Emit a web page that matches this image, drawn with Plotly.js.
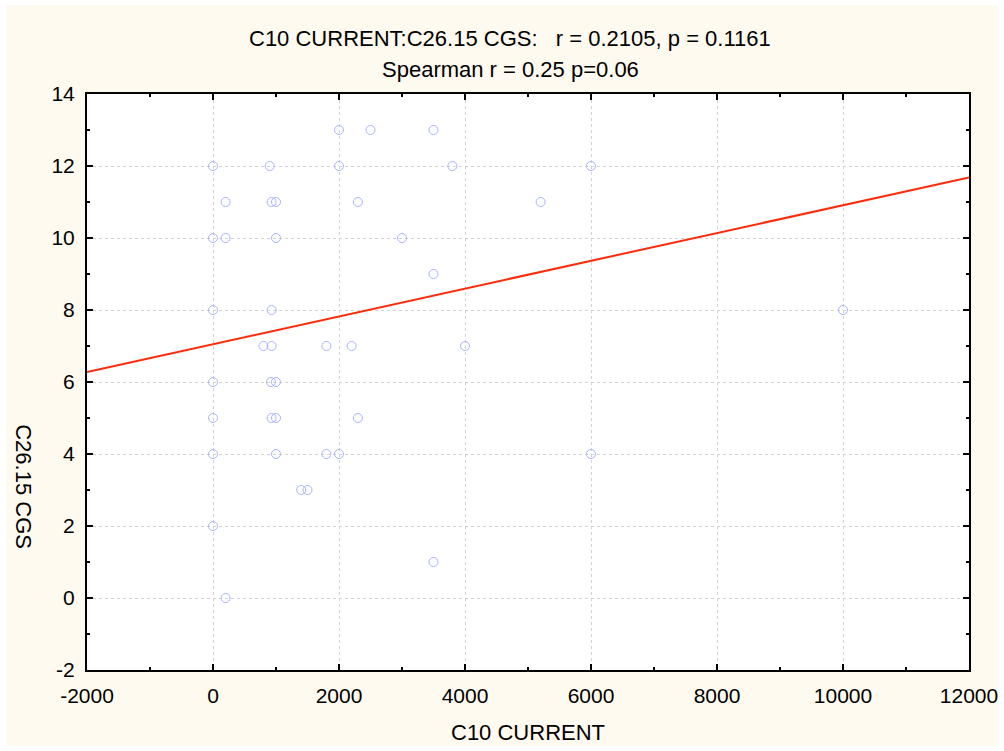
<!DOCTYPE html>
<html>
<head>
<meta charset="utf-8">
<script src="https://cdn.plot.ly/plotly-3.0.1.min.js"></script>
<style>html,body{margin:0;padding:0;background:#fff;}#chart{width:1004px;height:751px;}</style>
</head>
<body>
<div id="chart"></div>
<script>
// Observed points (C10 CURRENT, C26.15 CGS)
const c10Current = [
  0, 0, 0, 0, 0, 0, 0,
  200, 200, 200,
  900, 930, 1000, 1000, 930, 800, 930, 920, 1000, 930, 1000, 1000,
  1400, 1500,
  1800, 2200, 4000,
  2300,
  1800, 2000,
  2000, 2500, 3500,
  2000, 3800, 6000,
  2300, 5200,
  3000,
  3500,
  10000,
  6000,
  3500
];
const c26Cgs = [
  12, 10, 8, 6, 5, 4, 2,
  11, 10, 0,
  12, 11, 11, 10, 8, 7, 7, 6, 6, 5, 5, 4,
  3, 3,
  7, 7, 7,
  5,
  4, 4,
  13, 13, 13,
  12, 12, 12,
  11, 11,
  10,
  9,
  8,
  4,
  1
];
// Fitted regression line
const fitIntercept = 7.05;
const fitSlope = 0.000386;
const xRange = [-2000, 12000];
const yRange = [-2, 14];
const fitY = xRange.map(x => fitIntercept + fitSlope * x);

// Tick labels
const xTickVals = [-2000, 0, 2000, 4000, 6000, 8000, 10000, 12000];
const xTickText = ['-2000', '0', '2000', '4000', '6000', '8000', '10000', '12000'];
const yTickVals = [-2, 0, 2, 4, 6, 8, 10, 12, 14];
const yTickText = ['-2', '0', '2', '4', '6', '8', '10', '12', '14'];

const titleLine1 = 'C10 CURRENT:C26.15 CGS:   r = 0.2105, p = 0.1161';
const titleLine2 = 'Spearman r = 0.25 p=0.06';
const xTitle = 'C10 CURRENT';
const yTitle = 'C26.15 CGS';

const FONT = 'Liberation Sans, Arial, sans-serif';
const fsTick = 21;
const fsTitle = 22;

const axisCommon = {
  showline: true, linecolor: '#000', linewidth: 2, mirror: 'allticks',
  ticks: 'inside', ticklen: 6, tickwidth: 1.5, tickcolor: '#000',
  showgrid: true, gridcolor: '#d2d2d2', gridwidth: 1, griddash: 'dot',
  zeroline: false, tickmode: 'array',
  tickfont: {family: FONT, size: fsTick, color: '#000'},
  ticklabelstandoff: 6
};

const data = [
  {
    x: c10Current, y: c26Cgs, type: 'scatter', mode: 'markers',
    marker: {symbol: 'circle-open', size: 9, color: '#aab3ff', line: {width: 1, color: '#aab3ff'}},
    hoverinfo: 'x+y', showlegend: false
  },
  {
    x: xRange, y: fitY, type: 'scatter', mode: 'lines',
    line: {color: '#ff2a0a', width: 2}, showlegend: false, hoverinfo: 'skip'
  }
];

const layout = {
  width: 1004, height: 751,
  margin: {l: 87, r: 35, t: 94, b: 81},
  paper_bgcolor: '#ffffff', plot_bgcolor: '#ffffff',
  font: {family: FONT, size: fsTick, color: '#000'},
  showlegend: false,
  xaxis: Object.assign({}, axisCommon, {
    range: xRange, tickvals: xTickVals, ticktext: xTickText,
    minor: {dtick: 1000, tick0: 0, ticks: 'inside', ticklen: 3, tickcolor: '#000', tickwidth: 1.5, showgrid: false}
  }),
  yaxis: Object.assign({}, axisCommon, {
    range: yRange, tickvals: yTickVals, ticktext: yTickText,
    minor: {dtick: 1, tick0: 0, ticks: 'inside', ticklen: 3, tickcolor: '#000', tickwidth: 1.5, showgrid: false}
  }),
  shapes: [
    {type: 'rect', xref: 'paper', yref: 'paper', x0: -0.0918, x1: 1.0329, y0: -0.132, y1: 1.1545,
     fillcolor: '#fffaf0', line: {width: 0}, layer: 'below'},
    {type: 'rect', xref: 'paper', yref: 'paper', x0: 0, x1: 1, y0: 0, y1: 1,
     fillcolor: '#ffffff', line: {width: 0}, layer: 'below'}
  ],
  annotations: [
    {text: titleLine1, xref: 'paper', yref: 'paper', x: 0.4796, y: 1.0972,
     xanchor: 'center', yanchor: 'middle', showarrow: false, font: {family: FONT, size: fsTitle, color: '#000'}},
    {text: titleLine2, xref: 'paper', yref: 'paper', x: 0.4796, y: 1.0417,
     xanchor: 'center', yanchor: 'middle', showarrow: false, font: {family: FONT, size: fsTitle, color: '#000'}},
    {text: xTitle, xref: 'paper', yref: 'paper', x: 0.5, y: -0.109,
     xanchor: 'center', yanchor: 'middle', showarrow: false, font: {family: FONT, size: fsTitle, color: '#000'}},
    {text: yTitle, xref: 'paper', yref: 'paper', x: -0.0714, y: 0.319, textangle: 90,
     xanchor: 'center', yanchor: 'middle', showarrow: false, font: {family: FONT, size: fsTitle, color: '#000'}}
  ]
};

Plotly.newPlot('chart', data, layout, {displayModeBar: false, staticPlot: true});
</script>
</body>
</html>
